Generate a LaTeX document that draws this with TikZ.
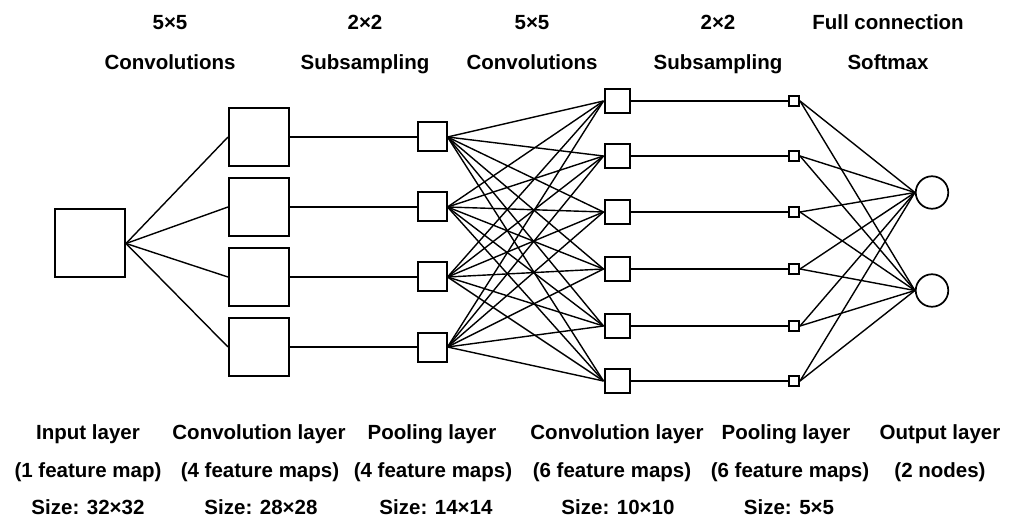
\documentclass[tikz,border=0pt]{standalone}
\usepackage{fontspec}
\setmainfont{Liberation Sans}
\usetikzlibrary{positioning}

\begin{document}
\begin{tikzpicture}[x=1pt,y=-1pt,
  fmap/.style={draw,line width=2pt,inner sep=0pt},
  unit/.style={draw,circle,line width=1.7pt,minimum size=32.5pt,inner sep=0pt},
  link/.style={line width=1.4pt},
  lbl/.style={font=\fontsize{20.5}{24}\selectfont\bfseries,inner sep=0pt,anchor=base}]
  \useasboundingbox (0,0) rectangle (1020,521);

  % layers
  \node[fmap,minimum width=70pt,minimum height=68pt] (in) at (90,243.5) {};
  \foreach \i/\y in {1/137,2/207,3/277,4/347} {
    \node[fmap,minimum width=60pt,minimum height=58pt] (cA\i) at (259,\y) {};
    \node[fmap,minimum size=29pt] (pA\i) at (432,\y) {};
  }
  \foreach \i/\y in {1/101,2/156,3/212,4/269,5/326,6/381} {
    \node[fmap,minimum width=25pt,minimum height=24pt] (cB\i) at (617,\y) {};
    \node[fmap,minimum size=10pt] (pB\i) at (794,\y) {};
  }
  \node[unit] (out1) at (932,192.5) {};
  \node[unit] (out2) at (932,290.5) {};

  % connections
  \foreach \i in {1,...,4} {
    \draw[link] (in.east) -- (cA\i.west);
    \draw[link] (cA\i.east) -- (pA\i.west);
    \foreach \j in {1,...,6} \draw[link] (pA\i.east) -- (cB\j.west);
  }
  \foreach \j in {1,...,6} {
    \draw[link] (cB\j.east) -- (pB\j.west);
    \foreach \k in {1,2} \draw[link] (pB\j.east) -- (out\k.west);
  }

  % operations
  \node[lbl] (opA1) at (170,29.5) {5×5};
  \node[lbl] (opA2) at (170,69.5) {Convolutions};
  \node[lbl] (opB1) at (365,29.5) {2×2};
  \node[lbl] (opB2) at (365,69.5) {Subsampling};
  \node[lbl] (opC1) at (532,29.5) {5×5};
  \node[lbl] (opC2) at (532,69.5) {Convolutions};
  \node[lbl] (opD1) at (718,29.5) {2×2};
  \node[lbl] (opD2) at (718,69.5) {Subsampling};
  \node[lbl] (opE1) at (888,29.5) {Full connection};
  \node[lbl] (opE2) at (888,69.5) {Softmax};

  % layer names
  \node[lbl] (inA) at (88,439) {Input layer};
  \node[lbl] (inB) at (88,477) {(1 feature map)};
  \node[lbl] (inC) at (88,514.5) {Size: 32×32};
  \node[lbl] (cAa) at (259,439) {Convolution layer};
  \node[lbl] (cAb) at (260,477) {(4 feature maps)};
  \node[lbl] (cAc) at (261,514.5) {Size: 28×28};
  \node[lbl] (pAa) at (432,439) {Pooling layer};
  \node[lbl] (pAb) at (433,477) {(4 feature maps)};
  \node[lbl] (pAc) at (436,514.5) {Size: 14×14};
  \node[lbl] (cBa) at (617,439) {Convolution layer};
  \node[lbl] (cBb) at (612,477) {(6 feature maps)};
  \node[lbl] (cBc) at (618,514.5) {Size: 10×10};
  \node[lbl] (pBa) at (786,439) {Pooling layer};
  \node[lbl] (pBb) at (790,477) {(6 feature maps)};
  \node[lbl] (pBc) at (789,514.5) {Size: 5×5};
  \node[lbl] (outa) at (940,439) {Output layer};
  \node[lbl] (outb) at (940,477) {(2 nodes)};
\end{tikzpicture}
\end{document}
